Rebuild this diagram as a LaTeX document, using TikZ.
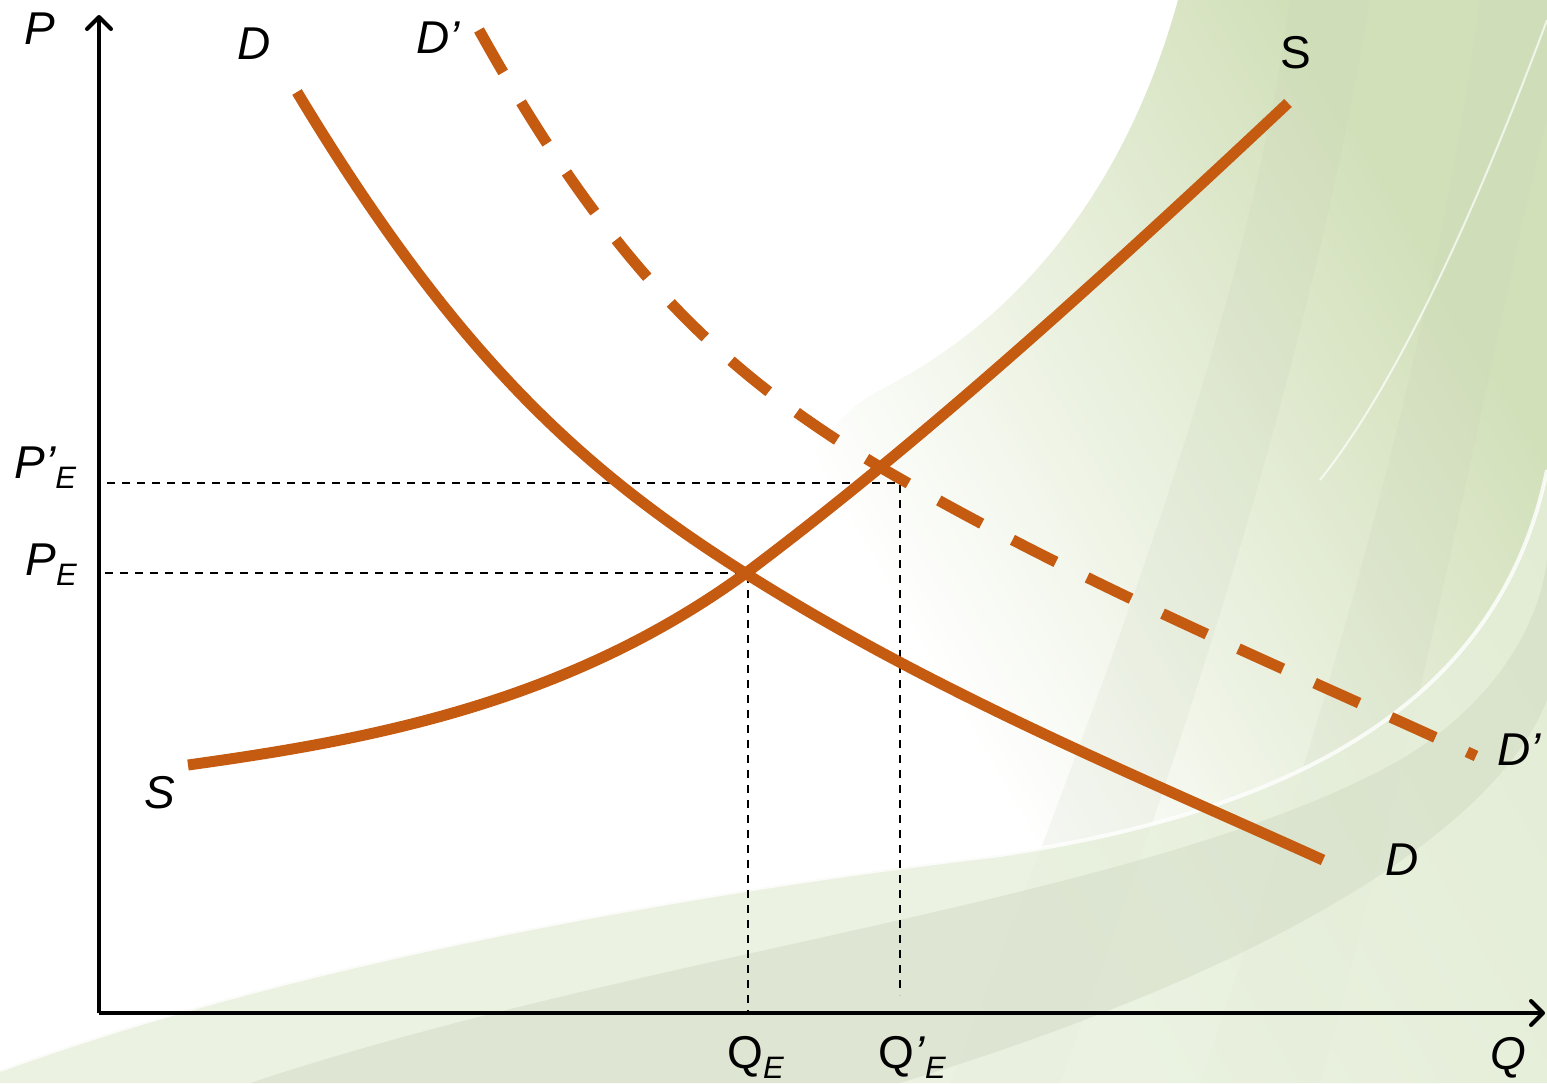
\documentclass[tikz,border=0pt]{standalone}
\usepackage{fontspec}
\setmainfont{Liberation Sans}
\usetikzlibrary{arrows.meta}

\definecolor{curveorange}{HTML}{C55A11}
\definecolor{bgpale}{HTML}{E6EFDA}
\definecolor{bgmid}{HTML}{D2E0BA}
\definecolor{bggrey}{HTML}{C3CDB4}

\pgfdeclarehorizontalshading{swoosh}{100bp}{color(0bp)=(white); color(38bp)=(white);
  color(72bp)=(bgmid); color(100bp)=(bgmid)}

% small lowered E for the equilibrium labels
\newcommand{\lowE}{\raisebox{-5pt}{\fontsize{15.5}{16}\selectfont\itshape E}}

\begin{document}
\begin{tikzpicture}[
  x=0.5pt, y=-0.5pt,
  lbl/.style  ={inner sep=0pt, font=\fontsize{23}{26}\selectfont\itshape},
  lblup/.style={inner sep=0pt, font=\fontsize{23}{26}\selectfont},
  axis/.style ={line width=2pt, -{Straight Barb[length=6pt, width=12pt, round]}},
  curve/.style={line width=5.5pt, draw=curveorange},
  guide/.style={line width=0.7pt, dash pattern=on 4pt off 3.5pt},
]
\useasboundingbox (0,0) rectangle (1547,1083);

% ---------- background ----------
\fill[white] (0,0) rectangle (1547,1083);
\shade[shading=swoosh, shading angle=30]
  (1178,0) .. controls (1120,210) and (1000,330) .. (880,390)
  .. controls (760,450) and (700,750) .. (680,1083) -- (1547,1083) -- (1547,0) -- cycle;
\fill[bggrey, opacity=0.15]
  (1290,0) .. controls (1250,300) and (1120,650) .. (950,1083)
  -- (1060,1083) .. controls (1220,650) and (1320,300) .. (1370,0) -- cycle;
\fill[bggrey, opacity=0.15]
  (1480,0) .. controls (1440,300) and (1350,650) .. (1200,1083)
  -- (1320,1083) .. controls (1440,650) and (1500,300) .. (1547,120) -- (1547,0) -- cycle;
\fill[bgpale, opacity=0.8]
  (0,1070) .. controls (300,960) and (700,890) .. (1000,855)
  .. controls (1300,810) and (1500,700) .. (1547,470) -- (1547,1083) -- (0,1083) -- cycle;
\fill[bggrey, opacity=0.3]
  (250,1083) .. controls (650,950) and (1150,900) .. (1400,760)
  .. controls (1500,700) and (1540,620) .. (1547,560) -- (1547,700)
  .. controls (1500,820) and (1300,960) .. (900,1083) -- cycle;
\draw[white, line width=2pt, opacity=0.8]
  (0,1070) .. controls (300,960) and (700,890) .. (1000,855)
  .. controls (1300,810) and (1500,700) .. (1547,470);
\draw[white, line width=1pt, opacity=0.7]
  (1547,20) .. controls (1480,200) and (1400,380) .. (1320,480);

% ---------- axes ----------
\coordinate (O) at (99,1013);
\draw[axis] (O) -- (99,15);
\draw[axis] (O) -- (1545,1013);

% ---------- equilibria ----------
\coordinate (eq)    at (748,573);
\coordinate (eqnew) at (900,483);
\draw[guide] (105,573) -- (eq) -- (eq |- O);
\draw[guide] (107,483) -- (eqnew) -- (900,995);

% ---------- curves ----------
\draw[curve] (297,92) .. controls (457,358) and (585,472) .. (745,573)
  .. controls (935,693) and (1133,774) .. (1323,860);
\draw[curve, dash pattern=on 24.4pt off 17.4pt] (479,30) .. controls (619,282) and (735,380) .. (885,470)
  .. controls (1085,586) and (1276,664) .. (1476,756);
\draw[curve] (188,765) .. controls (368,740) and (566,704) .. (746,573)
  .. controls (926,438) and (1108,272) .. (1288,103);

% ---------- labels ----------
\node[lbl]   (lP)   at (40,29)    {P};
\node[lbl]   (lQ)   at (1508,1058) {Q};
\node[lbl]   (lD1)  at (254,44)   {D};
\node[lbl]   (lD2)  at (1402,860) {D};
\node[lbl]   (lDn1) at (438,38)   {D’};
\node[lbl]   (lDn2) at (1519,750) {D’};
\node[lblup] (lS1)  at (1296,53)  {S};
\node[lbl]   (lS2)  at (160,793)  {S};
\node[lbl, anchor=base west]   (lPE)  at (25,575)   {P\lowE};
\node[lbl, anchor=base west]   (lPEn) at (14,478)   {P’\lowE};
\node[lblup, anchor=base west] (lQE)  at (727,1068) {Q\lowE};
\node[lblup, anchor=base west] (lQEn) at (878,1068) {Q\textit{’}\lowE};

\end{tikzpicture}
\end{document}
